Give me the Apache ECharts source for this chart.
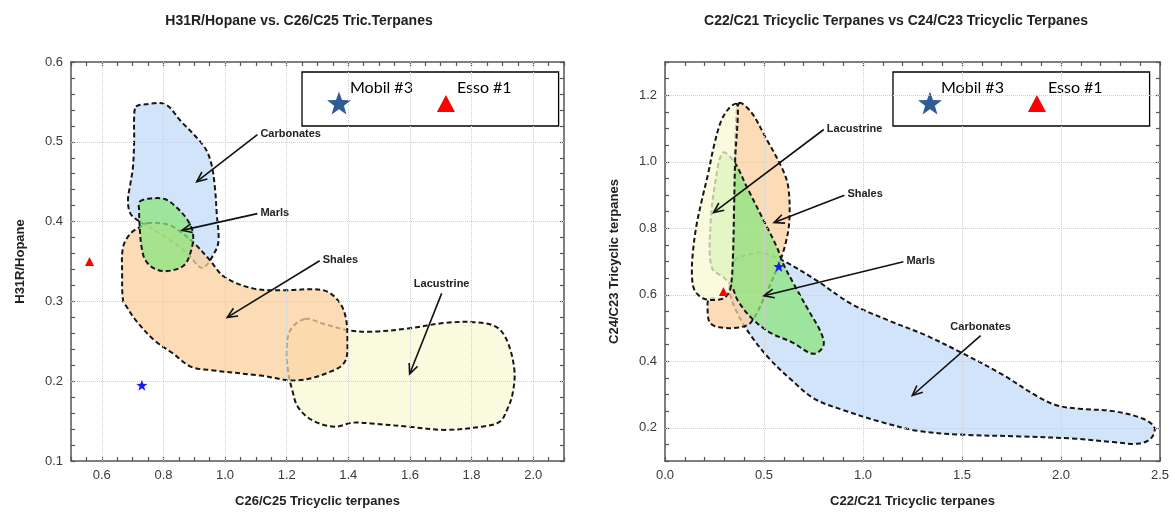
<!DOCTYPE html>
<html>
<head>
<meta charset="utf-8">
<script src="https://cdn.jsdelivr.net/npm/echarts@6/dist/echarts.min.js"></script>
<style>
  html, body { margin: 0; padding: 0; background: #ffffff; }
  #chart { width: 1175px; height: 514px; }
</style>
</head>
<body>
<div id="chart"></div>
<script>
// ---------- Left panel: H31R/Hopane vs C26/C25 tricyclic terpanes ----------
const leftXTicks = [0.6, 0.8, 1.0, 1.2, 1.4, 1.6, 1.8, 2.0];
const leftYTicks = [0.1, 0.2, 0.3, 0.4, 0.5, 0.6];

const leftCarbonates = [
  [0.711, 0.544], [0.741, 0.547], [0.806, 0.547], [0.854, 0.527], [0.932, 0.494],
  [0.955, 0.473], [0.967, 0.443], [0.973, 0.410], [0.979, 0.377], [0.967, 0.362],
  [0.926, 0.342], [0.878, 0.360], [0.806, 0.381], [0.723, 0.400], [0.693, 0.410],
  [0.685, 0.427], [0.693, 0.448], [0.701, 0.468], [0.705, 0.502], [0.705, 0.531]
];
const leftMarls = [
  [0.723, 0.425], [0.759, 0.429], [0.806, 0.428], [0.842, 0.418], [0.878, 0.402],
  [0.896, 0.385], [0.890, 0.364], [0.866, 0.345], [0.812, 0.338], [0.771, 0.341],
  [0.741, 0.352], [0.729, 0.368], [0.723, 0.393], [0.721, 0.414]
];
const leftShales = [
  [0.747, 0.398], [0.806, 0.397], [0.842, 0.391], [0.902, 0.372], [0.950, 0.352],
  [0.997, 0.331], [1.093, 0.316], [1.188, 0.314], [1.319, 0.314], [1.367, 0.301],
  [1.391, 0.281], [1.397, 0.251], [1.391, 0.226], [1.355, 0.214], [1.236, 0.201],
  [1.116, 0.207], [0.950, 0.214], [0.890, 0.218], [0.830, 0.235], [0.771, 0.251],
  [0.711, 0.276], [0.681, 0.293], [0.669, 0.301], [0.666, 0.335], [0.669, 0.368],
  [0.693, 0.385], [0.723, 0.393]
];
const leftLacustrine = [
  [1.259, 0.278], [1.319, 0.272], [1.397, 0.264], [1.474, 0.262], [1.593, 0.266],
  [1.713, 0.273], [1.808, 0.274], [1.880, 0.268], [1.915, 0.251], [1.939, 0.214],
  [1.933, 0.184], [1.915, 0.164], [1.891, 0.149], [1.832, 0.143], [1.713, 0.139],
  [1.593, 0.143], [1.474, 0.147], [1.414, 0.148], [1.355, 0.143], [1.283, 0.151],
  [1.236, 0.168], [1.218, 0.189], [1.206, 0.209], [1.200, 0.239], [1.212, 0.264]
];
const leftArrowNames = ['Carbonates', 'Marls', 'Shales', 'Lacustrine'];
const leftArrowTails = [[1.105, 0.509], [1.105, 0.410], [1.307, 0.351], [1.703, 0.310]];
const leftArrowHeads = [[0.908, 0.450], [0.860, 0.389], [1.007, 0.280], [1.599, 0.209]];
const leftArrowLabelSide = ['right', 'right', 'right', 'top'];
const leftMobil = [[0.73, 0.195]];
const leftEsso = [[0.56, 0.350]];

// ---------- Right panel: C24/C23 vs C22/C21 tricyclic terpanes ----------
const rightXTicks = [0.0, 0.5, 1.0, 1.5, 2.0, 2.5];
const rightYTicks = [0.2, 0.4, 0.6, 0.8, 1.0, 1.2];

const rightShales = [
  [0.374, 1.176], [0.434, 1.150], [0.509, 1.072], [0.594, 0.977], [0.623, 0.922],
  [0.628, 0.822], [0.608, 0.752], [0.575, 0.692], [0.509, 0.602], [0.434, 0.517],
  [0.377, 0.502], [0.274, 0.502], [0.226, 0.517], [0.215, 0.562], [0.223, 0.587],
  [0.302, 0.592], [0.336, 0.662], [0.343, 0.812], [0.349, 0.962], [0.358, 1.102]
];
const rightLacustrine = [
  [0.362, 1.174], [0.325, 1.162], [0.283, 1.122], [0.245, 1.042], [0.217, 0.962],
  [0.185, 0.882], [0.157, 0.802], [0.140, 0.722], [0.136, 0.662], [0.147, 0.617],
  [0.189, 0.590], [0.255, 0.584], [0.302, 0.592], [0.330, 0.617], [0.343, 0.712],
  [0.349, 0.862], [0.355, 1.012], [0.368, 1.142]
];
const rightMarls = [
  [0.292, 1.027], [0.349, 1.000], [0.415, 0.922], [0.491, 0.832], [0.566, 0.742],
  [0.594, 0.697], [0.651, 0.632], [0.726, 0.552], [0.783, 0.492], [0.802, 0.452],
  [0.774, 0.427], [0.736, 0.424], [0.642, 0.457], [0.528, 0.487], [0.434, 0.532],
  [0.368, 0.582], [0.340, 0.622], [0.300, 0.650], [0.236, 0.682], [0.230, 0.812],
  [0.255, 0.942]
];
const rightCarbonates = [
  [0.349, 0.702], [0.415, 0.720], [0.491, 0.726], [0.604, 0.700], [0.755, 0.647],
  [0.943, 0.572], [1.132, 0.522], [1.321, 0.477], [1.509, 0.422], [1.698, 0.362],
  [1.887, 0.292], [1.981, 0.267], [2.094, 0.257], [2.264, 0.250], [2.415, 0.227],
  [2.472, 0.200], [2.453, 0.167], [2.387, 0.152], [2.264, 0.157], [2.075, 0.167],
  [1.792, 0.174], [1.509, 0.179], [1.283, 0.190], [1.094, 0.217], [0.906, 0.252],
  [0.755, 0.287], [0.642, 0.342], [0.528, 0.407], [0.434, 0.477], [0.368, 0.542],
  [0.330, 0.602], [0.336, 0.662]
];
const rightArrowNames = ['Lacustrine', 'Shales', 'Marls', 'Carbonates'];
const rightArrowTails = [[0.802, 1.097], [0.906, 0.899], [1.204, 0.699], [1.594, 0.477]];
const rightArrowHeads = [[0.245, 0.847], [0.551, 0.817], [0.500, 0.597], [1.249, 0.297]];
const rightArrowLabelSide = ['right', 'right', 'right', 'top'];
const rightMobil = [[0.575, 0.685]];
const rightEsso = [[0.295, 0.610]];

// ---------- shared styling helpers ----------
const FONT = '"Liberation Sans", Arial, sans-serif';
const REGION_FILL = {
  carbonates: 'rgba(195, 219, 248, 0.75)',
  marls: 'rgba(139, 230, 126, 0.75)',
  shales: 'rgba(251, 208, 158, 0.75)',
  lacustrine: 'rgba(248, 248, 211, 0.75)'
};

function starPath(cx, cy, ro, ri) {
  let d = '';
  for (let k = 0; k < 10; k++) {
    const r = k % 2 === 0 ? ro : ri;
    const a = -Math.PI / 2 + k * Math.PI / 5;
    d += (k === 0 ? 'M' : 'L') + (cx + r * Math.cos(a)).toFixed(2) + ',' + (cy + r * Math.sin(a)).toFixed(2);
  }
  return d + 'Z';
}
const STAR = 'path://' + starPath(12, 12, 12, 4.9);
const LEGEND_TRIANGLE = 'path://M0,0M24,24M12,4L21,21L3,21Z';

function onTick(list, v) {
  return list.some(t => Math.abs(t - v) < 1e-6);
}

function valueAxis(gridIndex, position, min, max, step, labels, showLabels) {
  return {
    type: 'value', gridIndex, position, min, max, interval: step,
    axisLine: { show: true, onZero: false, lineStyle: { color: '#555', width: 1.5 } },
    axisTick: { show: true, inside: true, length: 4, lineStyle: { color: '#555', width: 1.2 } },
    axisLabel: {
      show: showLabels, color: '#3a3a3a', fontFamily: FONT, fontSize: 13, margin: 8,
      formatter: v => (onTick(labels, v) ? v.toFixed(1) : '')
    },
    splitLine: { show: false }
  };
}

function gridLineSeries(xIdx, yIdx, xs, ys) {
  return {
    type: 'scatter', name: 'grid', xAxisIndex: xIdx, yAxisIndex: yIdx, data: [], z: 1, silent: true,
    markLine: {
      silent: true, symbol: 'none', animation: false,
      label: { show: false },
      lineStyle: { color: '#cfcfcf', width: 1, type: 'dotted' },
      data: xs.map(v => ({ xAxis: v })).concat(ys.map(v => ({ yAxis: v })))
    }
  };
}

function regionSeries(points, fill, xIdx, yIdx, z) {
  return {
    type: 'custom', xAxisIndex: xIdx, yAxisIndex: yIdx, z, silent: true, clip: true,
    data: points,
    renderItem(params, api) {
      if (params.dataIndex !== 0) return null;
      const pts = points.map(p => api.coord(p));
      return {
        type: 'polygon',
        shape: { points: pts, smooth: 0.35 },
        style: { fill, stroke: '#161616', lineWidth: 2, lineDash: [5, 3] }
      };
    }
  };
}

function arrowSeries(tails, heads, names, sides, xIdx, yIdx) {
  return {
    type: 'custom', xAxisIndex: xIdx, yAxisIndex: yIdx, z: 8, silent: true,
    dimensions: ['x1', 'y1', 'x2', 'y2'],
    encode: { x: [0, 2], y: [1, 3] },
    data: tails.map((t, i) => [t[0], t[1], heads[i][0], heads[i][1]]),
    renderItem(params, api) {
      const i = params.dataIndex;
      const p1 = api.coord([api.value(0), api.value(1)]);
      const p2 = api.coord([api.value(2), api.value(3)]);
      const ang = Math.atan2(p2[1] - p1[1], p2[0] - p1[0]);
      const L = 11, w = 0.42;
      const a1 = [p2[0] - L * Math.cos(ang - w), p2[1] - L * Math.sin(ang - w)];
      const a2 = [p2[0] - L * Math.cos(ang + w), p2[1] - L * Math.sin(ang + w)];
      const top = sides[i] === 'top';
      return {
        type: 'group',
        children: [
          { type: 'line', shape: { x1: p1[0], y1: p1[1], x2: p2[0], y2: p2[1] },
            style: { stroke: '#111', lineWidth: 1.6 } },
          { type: 'polyline', shape: { points: [a1, p2, a2] },
            style: { stroke: '#111', lineWidth: 1.6, fill: null } },
          { type: 'text',
            style: {
              text: names[i],
              x: top ? p1[0] : p1[0] + 3,
              y: top ? p1[1] - 9 : p1[1] - 1,
              align: top ? 'center' : 'left',
              verticalAlign: 'middle',
              font: 'bold 11px ' + FONT,
              fill: '#222'
            } }
        ]
      };
    }
  };
}

function markerSeries(name, data, symbol, size, color, xIdx, yIdx) {
  return {
    type: 'scatter', name, data, symbol, symbolSize: size, xAxisIndex: xIdx, yAxisIndex: yIdx,
    z: 10, itemStyle: { color, opacity: 1 }
  };
}

function legendBox(left) {
  return {
    left, top: 72, orient: 'horizontal', selectedMode: false,
    itemWidth: 24, itemHeight: 24, itemGap: 21,
    padding: [8, 47, 0, 25],
    borderColor: '#000', borderWidth: 1.3, backgroundColor: '#fff',
    formatter: name => '{t|' + name + '}',
    textStyle: {
      fontFamily: 'Lato, "Open Sans", sans-serif', fontSize: 16, color: '#000',
      rich: {
        t: { fontFamily: 'Lato, "Open Sans", sans-serif', fontSize: 16, color: '#000',
             lineHeight: 16, padding: [0, 0, 30, -6] }
      }
    },
    data: [
      { name: 'Mobil #3', icon: STAR, itemStyle: { color: '#2f5c96' } },
      { name: 'Esso #1', icon: LEGEND_TRIANGLE, itemStyle: { color: '#ff0000' } }
    ]
  };
}

const axisNameStyle = { fontFamily: FONT, fontWeight: 'bold', fontSize: 13, color: '#222' };

const xAxes = [
  Object.assign(valueAxis(0, 'bottom', 0.5, 2.1, 0.05, leftXTicks, true),
    { name: 'C26/C25 Tricyclic terpanes', nameLocation: 'middle', nameGap: 34, nameTextStyle: axisNameStyle }),
  valueAxis(0, 'top', 0.5, 2.1, 0.05, leftXTicks, false),
  Object.assign(valueAxis(1, 'bottom', 0, 2.5, 0.1, rightXTicks, true),
    { name: 'C22/C21 Tricyclic terpanes', nameLocation: 'middle', nameGap: 34, nameTextStyle: axisNameStyle }),
  valueAxis(1, 'top', 0, 2.5, 0.1, rightXTicks, false)
];
const yAxes = [
  Object.assign(valueAxis(0, 'left', 0.1, 0.6, 0.02, leftYTicks, true),
    { name: 'H31R/Hopane', nameLocation: 'middle', nameGap: 44, nameTextStyle: axisNameStyle }),
  valueAxis(0, 'right', 0.1, 0.6, 0.02, leftYTicks, false),
  Object.assign(valueAxis(1, 'left', 0.1, 1.3, 0.05, rightYTicks, true),
    { name: 'C24/C23 Tricyclic terpanes', nameLocation: 'middle', nameGap: 44, nameTextStyle: axisNameStyle }),
  valueAxis(1, 'right', 0.1, 1.3, 0.05, rightYTicks, false)
];

const chart = echarts.init(document.getElementById('chart'), null, { renderer: 'canvas' });
chart.setOption({
  animation: false,
  backgroundColor: '#ffffff',
  title: [
    { text: 'H31R/Hopane vs. C26/C25 Tric.Terpanes', left: 294, top: 9, textAlign: 'center',
      textStyle: { fontFamily: FONT, fontWeight: 'bold', fontSize: 14, color: '#222' } },
    { text: 'C22/C21 Tricyclic Terpanes vs C24/C23 Tricyclic Terpanes', left: 891, top: 9, textAlign: 'center',
      textStyle: { fontFamily: FONT, fontWeight: 'bold', fontSize: 14, color: '#222' } }
  ],
  legend: [legendBox(302), legendBox(893)],
  grid: [
    { left: 71, top: 62, width: 493, height: 399, containLabel: false },
    { left: 665, top: 62, width: 495, height: 399, containLabel: false }
  ],
  xAxis: xAxes,
  yAxis: yAxes,
  series: [
    gridLineSeries(0, 0, leftXTicks, leftYTicks.slice(1, -1)),
    regionSeries(leftLacustrine, REGION_FILL.lacustrine, 0, 0, 2),
    regionSeries(leftCarbonates, REGION_FILL.carbonates, 0, 0, 3),
    regionSeries(leftShales, REGION_FILL.shales, 0, 0, 4),
    regionSeries(leftMarls, REGION_FILL.marls, 0, 0, 5),
    arrowSeries(leftArrowTails, leftArrowHeads, leftArrowNames, leftArrowLabelSide, 0, 0),
    markerSeries('Mobil #3', leftMobil, STAR, 11, '#1a1aff', 0, 0),
    markerSeries('Esso #1', leftEsso, 'triangle', 9, '#ff0000', 0, 0),

    gridLineSeries(2, 2, rightXTicks.slice(1, -1), rightYTicks),
    regionSeries(rightCarbonates, REGION_FILL.carbonates, 2, 2, 2),
    regionSeries(rightShales, REGION_FILL.shales, 2, 2, 3),
    regionSeries(rightMarls, REGION_FILL.marls, 2, 2, 4),
    regionSeries(rightLacustrine, REGION_FILL.lacustrine, 2, 2, 5),
    arrowSeries(rightArrowTails, rightArrowHeads, rightArrowNames, rightArrowLabelSide, 2, 2),
    markerSeries('Mobil #3', rightMobil, STAR, 11, '#1a1aff', 2, 2),
    markerSeries('Esso #1', rightEsso, 'triangle', 9, '#ff0000', 2, 2)
  ]
});
</script>
</body>
</html>
